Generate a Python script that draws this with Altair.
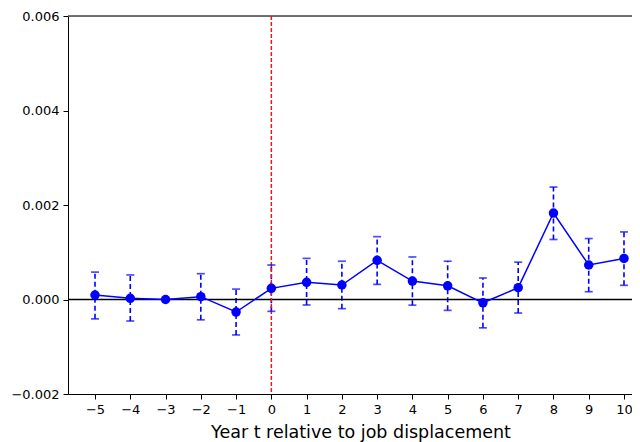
import altair as alt
import pandas as pd

years = [-5, -4, -3, -2, -1, 0, 1, 2, 3, 4, 5, 6, 7, 8, 9, 10]
estimate = [0.000095, 0.000025, 0.0, 0.00006, -0.000265, 0.000236, 0.000364, 0.000307,
            0.00083, 0.00039, 0.00029, -0.00007, 0.00025, 0.00183, 0.00073, 0.00087]
ci_low = [-0.00041, -0.000455, None, -0.00043, -0.00075, -0.00025, -0.000116, -0.000194,
          0.00032, -0.00012, -0.00023, -0.0006, -0.000286, 0.00127, 0.000165, 0.0003]
ci_high = [0.00058, 0.00052, None, 0.000546, 0.00022, 0.00073, 0.00087, 0.00081,
           0.00133, 0.0009, 0.00081, 0.000455, 0.00079, 0.00238, 0.00129, 0.00143]
x_ticks = list(range(-5, 11))
y_ticks = [-0.002, 0.0, 0.002, 0.004, 0.006]

df = pd.DataFrame({"t": years, "est": estimate, "lo": ci_low, "hi": ci_high})
df_ci = df.dropna()

BLUE = "#0000ff"
xscale = alt.Scale(domain=[-5.766, 10.227], nice=False, zero=False)
yscale = alt.Scale(domain=[-0.002, 0.006], nice=False, zero=False)

xaxis = alt.Axis(values=x_ticks, format="d", title="Year t relative to job displacement",
                 grid=False, labelOverlap=False, labelFlush=False,
                 domainColor="black", tickColor="black", tickSize=5, labelFontSize=13,
                 labelColor="black", labelPadding=4, titleFontSize=17.5, titleFontWeight="normal",
                 titleColor="black", titleX=292.5, titleY=43, titleAlign="center",
                 titleBaseline="alphabetic", labelFont="DejaVu Sans", titleFont="DejaVu Sans")
yaxis = alt.Axis(values=y_ticks, format=".3f", title=None, grid=False, domainColor="black",
                 labelOverlap=False, labelFlush=False,
                 tickColor="black", tickSize=5, labelFontSize=13, labelColor="black",
                 labelPadding=4, labelFont="DejaVu Sans")

def X(field):
    return alt.X(field, type="quantitative", scale=xscale, axis=xaxis)

def Y(field):
    return alt.Y(field, type="quantitative", scale=yscale, axis=yaxis)

base = alt.Chart(df)

one = pd.DataFrame({"a": [0]})
top_line = alt.Chart(one).mark_rule(color="#444444", strokeWidth=1.5).encode(
    y=alt.datum(0.006, scale=yscale, axis=yaxis))
zero_line = alt.Chart(one).mark_rule(color="black", strokeWidth=1.5).encode(
    y=alt.datum(0.0, scale=yscale, axis=yaxis))
event_line = alt.Chart(one).mark_rule(color="#e31a1c", strokeWidth=1.5, strokeDash=[4, 2]).encode(
    x=alt.datum(0, scale=xscale, axis=xaxis))

bars = alt.Chart(df_ci).mark_rule(color=BLUE, strokeWidth=1.6, strokeDash=[5, 3]).encode(
    x=X("t"), y=Y("lo"), y2="hi:Q")
cap_lo = alt.Chart(df_ci).mark_tick(color=BLUE, orient="horizontal", size=8, thickness=1.7).encode(
    x=X("t"), y=Y("lo"))
cap_hi = alt.Chart(df_ci).mark_tick(color=BLUE, orient="horizontal", size=8, thickness=1.7).encode(
    x=X("t"), y=Y("hi"))
line = base.mark_line(color=BLUE, strokeWidth=1.5).encode(x=X("t"), y=Y("est"))
pts = base.mark_circle(color=BLUE, size=90, opacity=1).encode(x=X("t"), y=Y("est"))

chart = alt.layer(bars, top_line, zero_line, event_line, cap_lo, cap_hi, line, pts).properties(
    width=564, height=378,
    autosize=alt.AutoSizeParams(type="none"),
    padding={"left": 60, "top": 8, "right": 0, "bottom": 48},
).configure_view(stroke=None).configure(font="DejaVu Sans")

chart.save("out.html", embed_options={"renderer": "svg", "actions": False})
